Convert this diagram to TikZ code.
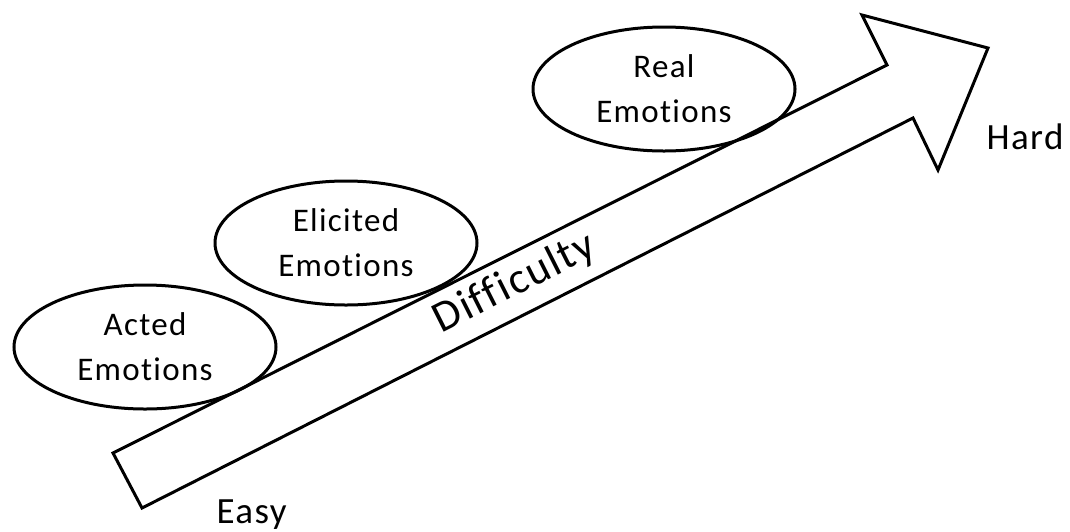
\documentclass[tikz,border=0pt]{standalone}
\usepackage{fontspec}
\setmainfont{Carlito}[Ligatures=NoCommon]
\newfontfamily\spaced{Carlito}[Ligatures=NoCommon, LetterSpace=4]
\usetikzlibrary{shapes.geometric}

\begin{document}
\begin{tikzpicture}
			[x=1pt, y=-1pt, line width=3pt,
			emotion/.style={ellipse, draw, minimum width=262pt, minimum height=124pt, inner sep=0pt, align=center, font=\spaced\fontsize{33}{45}\selectfont},
			level/.style={inner sep=0pt, anchor=base west, font=\spaced\fontsize{37}{40}\selectfont}]
			\useasboundingbox (0,0) rectangle (1070,531);
			% the big arrow
			\draw (113,453) -- (887,65) -- (862,15) -- (988,48) -- (938,170) -- (913,118) -- (142,508) -- cycle;
			\node[emotion] (acted) at (145,347) {Acted\\Emotions};
			\node[emotion] (elicited) at (346,243) {Elicited\\Emotions};
			\node[emotion] (real) at (664,89) {Real\\Emotions};
			\node[rotate=26.7, anchor=base, inner sep=0pt, font=\spaced\fontsize{44}{50}\selectfont] (difficulty) at (520,294) {Difficulty};
			\node[level] (easy) at (215,523) {Easy};
			\node[level] (hard) at (985,149) {Hard};
		\end{tikzpicture}
\end{document}
